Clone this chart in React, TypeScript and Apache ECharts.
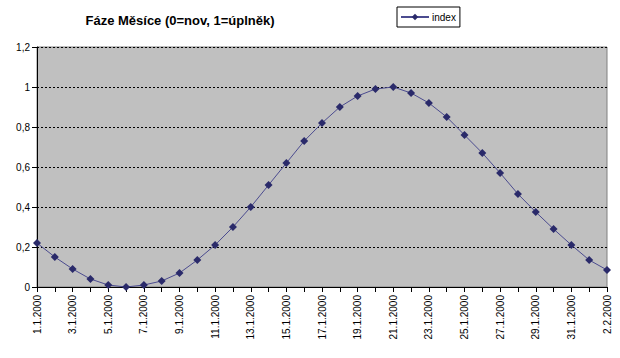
import React, { useEffect, useRef } from "react";
import * as echarts from "echarts";

const dates = [
  "1.1.2000","2.1.2000","3.1.2000","4.1.2000","5.1.2000","6.1.2000","7.1.2000","8.1.2000",
  "9.1.2000","10.1.2000","11.1.2000","12.1.2000","13.1.2000","14.1.2000","15.1.2000","16.1.2000",
  "17.1.2000","18.1.2000","19.1.2000","20.1.2000","21.1.2000","22.1.2000","23.1.2000","24.1.2000",
  "25.1.2000","26.1.2000","27.1.2000","28.1.2000","29.1.2000","30.1.2000","31.1.2000","1.2.2000","2.2.2000",
];
const indexValues = [
  0.22, 0.15, 0.09, 0.04, 0.01, 0.0, 0.01, 0.03,
  0.07, 0.135, 0.21, 0.3, 0.4, 0.51, 0.62, 0.73,
  0.82, 0.9, 0.955, 0.99, 1.0, 0.97, 0.92, 0.85,
  0.76, 0.67, 0.57, 0.465, 0.375, 0.29, 0.21, 0.135, 0.085,
];
const seriesName = "index";
const titleText = "Fáze Měsíce (0=nov, 1=úplněk)";

export default function App() {
  const ref = useRef<HTMLDivElement>(null);
  useEffect(() => {
    if (!ref.current) return;
    const chart = echarts.init(ref.current, undefined, { renderer: "svg" });
    const font = "'Liberation Sans', Arial, sans-serif";
    chart.setOption({
      animation: false,
      backgroundColor: "#ffffff",
      textStyle: { fontFamily: font },
      title: {
        text: titleText,
        left: 175,
        top: 9,
        textAlign: "center",
        textStyle: { fontSize: 13, fontWeight: "bold", color: "#000", fontFamily: font },
      },
      legend: {
        left: 397,
        top: 7,
        borderColor: "#000",
        borderWidth: 1,
        padding: [5, 4, 5, 3],
        itemWidth: 28,
        itemHeight: 8,
        itemGap: 4,
        textStyle: { fontSize: 10, color: "#000", fontFamily: font, padding: [0, 0, 0, -2] },
        data: [seriesName],
      },
      grid: {
        left: 37,
        right: 13,
        top: 47,
        bottom: 71,
        show: true,
        backgroundColor: "#C0C0C0",
        borderColor: "#808080",
        borderWidth: 1,
      },
      xAxis: {
        type: "category",
        data: dates,
        boundaryGap: false,
        axisLine: { lineStyle: { color: "#000", width: 1 } },
        axisTick: { show: true, interval: 0, length: 5, inside: false, lineStyle: { color: "#000" } },
        axisLabel: {
          interval: 1,
          rotate: 90,
          fontSize: 10,
          color: "#000",
          fontFamily: font,
          margin: 8,
        },
        splitLine: { show: false },
      },
      yAxis: {
        type: "value",
        min: 0,
        max: 1.2,
        interval: 0.2,
        axisLine: { show: true, lineStyle: { color: "#000", width: 1 } },
        axisTick: { show: true, length: 5, lineStyle: { color: "#000" } },
        axisLabel: {
          fontSize: 10,
          color: "#000",
          fontFamily: font,
          margin: 7,
          formatter: (v: number) => String(Math.round(v * 10) / 10).replace(".", ","),
        },
        splitLine: { show: true, lineStyle: { color: "#000", type: [2, 2], width: 1 } },
      },
      series: [
        {
          name: seriesName,
          type: "line",
          data: indexValues,
          symbol: "diamond",
          symbolSize: 8,
          showAllSymbol: true,
          lineStyle: { color: "#4B4B8F", width: 1 },
          itemStyle: { color: "#2A2A6A", borderWidth: 0 },
        },
      ],
    });
    return () => chart.dispose();
  }, []);
  return <div ref={ref} style={{ width: 620, height: 358, position: "absolute", left: 0, top: 0 }} />;
}
